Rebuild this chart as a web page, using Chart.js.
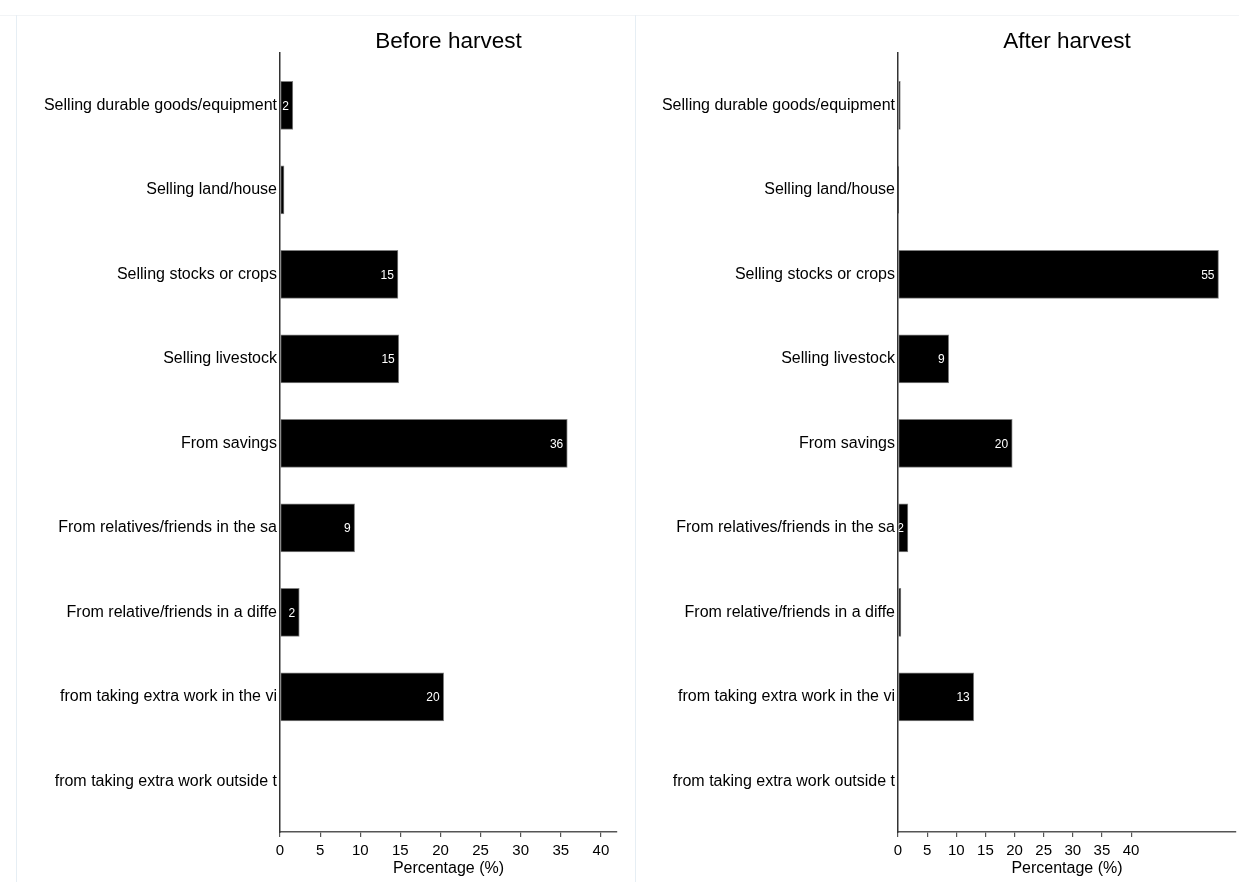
<!DOCTYPE html>
<html>
<head>
<meta charset="utf-8">
<script src="https://cdn.jsdelivr.net/npm/chart.js@4"></script>
<style>
  html, body { margin: 0; padding: 0; background: #fff; }
  body { width: 1239px; height: 882px; position: relative; overflow: hidden; }
  .frame-top { position: absolute; left: 0; top: 15px; width: 1239px; height: 1px; background: #f2f4f6; }
  .frame-v { position: absolute; top: 15px; width: 1px; height: 867px; background: #e6eef4; }
  .panel { position: absolute; top: 0; height: 882px; }
  #leftPanel { left: 17px; width: 618px; }
  #rightPanel { left: 636px; width: 603px; }
</style>
</head>
<body>
<div class="frame-top"></div>
<div class="frame-v" style="left:16px"></div>
<div class="frame-v" style="left:635px"></div>
<div class="panel" id="leftPanel"><canvas id="before"></canvas></div>
<div class="panel" id="rightPanel"><canvas id="after"></canvas></div>
<script>
// Coping strategies (labels as truncated in the survey export)
const categories = [
  "Selling durable goods/equipment",
  "Selling land/house",
  "Selling stocks or crops",
  "Selling livestock",
  "From savings",
  "From relatives/friends in the sa",
  "From relative/friends in a diffe",
  "from taking extra work in the vi",
  "from taking extra work outside t"
];

// Share of households (%)
const beforeHarvest = [1.6, 0.5, 14.7, 14.8, 35.8, 9.3, 2.4, 20.4, 0];
const afterHarvest  = [0.4, 0.1, 55.0, 8.7, 19.6, 1.7, 0.5, 13.0, 0];

const xTicks = [0, 5, 10, 15, 20, 25, 30, 35, 40];

const FONT = "'Liberation Sans', Arial, Helvetica, sans-serif";

// Panel title, axis title and in-bar value labels
const annotate = {
  id: 'annotate',
  afterDatasetsDraw(chart, args, opts) {
    const ctx = chart.ctx;
    const area = chart.chartArea;
    const cx = (area.left + area.right) / 2;
    ctx.save();
    ctx.fillStyle = '#000';
    ctx.textAlign = 'center';
    ctx.textBaseline = 'alphabetic';
    ctx.font = '22.5px ' + FONT;
    ctx.fillText(opts.title, cx, 48);
    ctx.font = '16px ' + FONT;
    ctx.fillText('Percentage (%)', cx, 873);

    // value labels inside the bar ends
    ctx.font = '12px ' + FONT;
    ctx.fillStyle = '#fff';
    ctx.textAlign = 'right';
    ctx.textBaseline = 'middle';
    const meta = chart.getDatasetMeta(0);
    const vals = chart.data.datasets[0].data;
    meta.data.forEach((bar, i) => {
      const v = vals[i].x;
      if (v < 1) return;
      ctx.save();
      ctx.beginPath();
      ctx.rect(bar.base, bar.y - 24, bar.x - bar.base, 48);
      ctx.clip();
      ctx.fillText(String(Math.round(v)), bar.x - 4, bar.y + 1);
      ctx.restore();
    });
    ctx.restore();
  }
};

function makePanel(id, title, values, xMax, axisWidth, rightPad) {
  const points = values.map((v, i) => ({ x: v, y: i }));
  return new Chart(document.getElementById(id), {
    type: 'bar',
    data: {
      datasets: [{
        data: points,
        backgroundColor: '#000',
        borderColor: '#808080',
        borderWidth: 1,
        borderSkipped: false,
        barThickness: 48
      }]
    },
    options: {
      indexAxis: 'y',
      responsive: true,
      maintainAspectRatio: false,
      animation: false,
      layout: { padding: { top: 53, right: rightPad, bottom: 0, left: 0 } },
      plugins: {
        legend: { display: false },
        tooltip: { enabled: false },
        annotate: { title: title }
      },
      scales: {
        x: {
          type: 'linear',
          min: 0,
          max: xMax,
          afterBuildTicks: (axis) => { axis.ticks = xTicks.map(v => ({ value: v })); },
          afterFit: (axis) => { axis.height = 50; },
          border: { display: true, color: '#555', width: 1.5 },
          grid: { drawOnChartArea: false, drawTicks: true, tickLength: 5, color: '#555', lineWidth: 1.2 },
          ticks: {
            color: '#000',
            font: { family: FONT, size: 15 },
            padding: 5,
            maxRotation: 0,
            autoSkip: false
          }
        },
        y: {
          type: 'linear',
          reverse: true,
          offset: false,
          min: -0.62,
          max: 8.6,
          afterBuildTicks: (axis) => { axis.ticks = categories.map((_, i) => ({ value: i })); },
          afterFit: (axis) => { axis.width = axisWidth; },
          border: { display: true, color: '#333', width: 1.5 },
          grid: { display: false, drawTicks: false, offset: false },
          ticks: {
            color: '#000',
            font: { family: FONT, size: 16 },
            padding: 3,
            autoSkip: false,
            callback: (v) => categories[v] ?? ''
          }
        }
      }
    },
    plugins: [annotate]
  });
}

makePanel('before', 'Before harvest', beforeHarvest, 42, 263, 18);
makePanel('after', 'After harvest', afterHarvest, 58, 262, 3);
</script>
</body>
</html>
